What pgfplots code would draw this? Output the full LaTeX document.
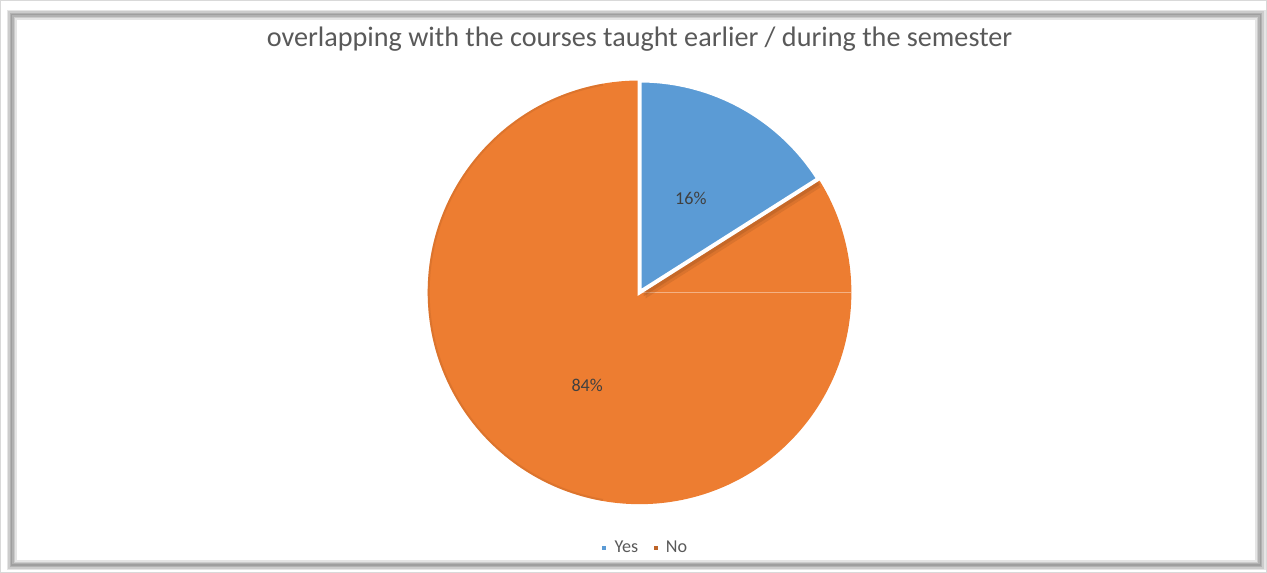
\documentclass[border=0pt]{standalone}
\usepackage{pgfplots}
\pgfplotsset{compat=1.18}
\usepackage{pgfplotstable}
\usepackage{fontspec}
\setmainfont{Carlito}
\definecolor{cblue}{HTML}{5B9BD5}
\definecolor{corange}{HTML}{ED7D31}
\definecolor{ctitle}{HTML}{595959}
\definecolor{clabel}{HTML}{404040}
\pgfplotstableread{
label value
Yes 16
No 84
}\piedata
\begin{document}
\begin{tikzpicture}
\pgfplotstablegetelem{0}{value}\of\piedata \let\yesval\pgfplotsretval
\pgfplotstablegetelem{1}{value}\of\piedata \let\noval\pgfplotsretval
\pgfmathsetmacro{\yesend}{90-3.6*\yesval}
\begin{axis}[x=1pt,y=1pt,xmin=0,xmax=1267,ymin=0,ymax=573,
  hide axis, clip=false, anchor=origin, at={(0,0)}]
% frame
\draw[gray!30, line width=1pt] (axis cs:7,570) rectangle (axis cs:1265,2);
\draw[gray!20, line width=10pt] (axis cs:18,556) rectangle (axis cs:1259,9);
\draw[gray!40, line width=7pt] (axis cs:18,556) rectangle (axis cs:1259,9);
\draw[gray!60, line width=4pt] (axis cs:18,556) rectangle (axis cs:1259,9);
\draw[gray!75, line width=1.5pt] (axis cs:18,556) rectangle (axis cs:1259,9);
% title
\node[text=ctitle, font=\fontsize{28}{32}\selectfont, anchor=base] at (axis cs:642,524) {overlapping with the courses taught earlier / during the semester};
% No slice (full circle underneath)
\fill[corange] (axis cs:642,280) circle[radius=210.5pt];
\draw[corange!80!black, line width=2pt, opacity=0.35] (axis cs:642,280) ++(100:209.5pt) arc[start angle=100, end angle=260, radius=209.5pt];
\draw[corange!60!white, line width=0.6pt] (axis cs:642,280) -- ++(0:210pt);
% shadow of Yes slice
\fill[corange!60!black, opacity=0.25] (axis cs:646,276) -- ++(\yesend:208pt) arc[start angle=\yesend, end angle=90, radius=208pt] -- cycle;
\fill[corange!60!black, opacity=0.2] (axis cs:648,274) -- ++(\yesend:206pt) arc[start angle=\yesend, end angle=90, radius=206pt] -- cycle;
% Yes slice
\filldraw[fill=cblue, draw=white, line width=4pt, line join=miter] (axis cs:642,280) -- ++(90:210.5pt) arc[start angle=90, end angle=\yesend, radius=210.5pt] -- cycle;
% data labels
\node[text=clabel, font=\fontsize{18}{20}\selectfont] at (axis cs:693,373) {\yesval\%};
\node[text=clabel, font=\fontsize{18}{20}\selectfont] at (axis cs:590,188) {\noval\%};
% legend
\fill[cblue] (axis cs:605,24) rectangle (axis cs:609,28);
\node[text=ctitle, font=\fontsize{18}{20}\selectfont, anchor=base west, inner sep=0pt] at (axis cs:617,21) {Yes};
\fill[corange!80!black] (axis cs:656,24) rectangle (axis cs:660,28);
\node[text=ctitle, font=\fontsize{18}{20}\selectfont, anchor=base west, inner sep=0pt] at (axis cs:668,21) {No};
\end{axis}
\end{tikzpicture}
\end{document}
